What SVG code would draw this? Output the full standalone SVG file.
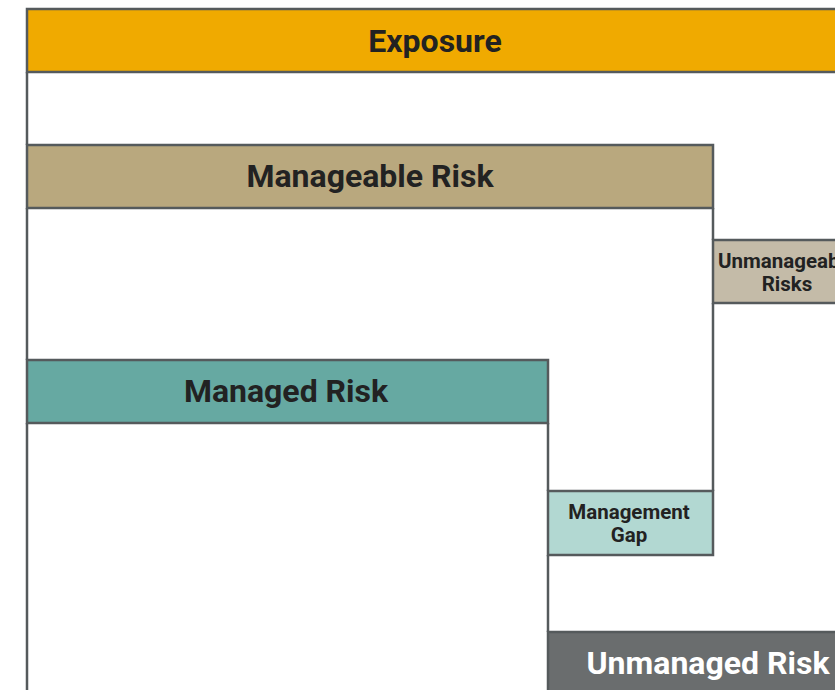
<svg xmlns="http://www.w3.org/2000/svg" width="835" height="690" viewBox="0 0 835 690">
<style>
.box{stroke:#555a5c;stroke-width:2.5}
.ln{stroke:#555a5c;stroke-width:2.5;fill:none}
.big{font-family:Roboto,"Liberation Sans",sans-serif;font-weight:bold;font-size:32px;fill:#222;text-anchor:middle}
.sm{font-family:Roboto,"Liberation Sans",sans-serif;font-weight:bold;font-size:20.5px;fill:#222;text-anchor:middle}
</style>
<rect x="0" y="0" width="835" height="690" fill="#fff"/>
<g id="connectors">
<line class="ln" x1="27" y1="72" x2="27" y2="145"/>
<line class="ln" x1="27" y1="208" x2="27" y2="360"/>
<line class="ln" x1="27" y1="423" x2="27" y2="692"/>
<line class="ln" x1="713" y1="208" x2="713" y2="240"/>
<line class="ln" x1="713" y1="303" x2="713" y2="491"/>
<line class="ln" x1="548" y1="423" x2="548" y2="491"/>
<line class="ln" x1="548" y1="555" x2="548" y2="632"/>
</g>
<g id="exposure">
<rect class="box" x="27" y="9" width="816" height="63" fill="#f0aa00"/>
<text class="big" x="435" y="52">Exposure</text>
</g>
<g id="manageable-risk">
<rect class="box" x="27" y="145" width="686" height="63" fill="#b9a87e"/>
<text class="big" x="370" y="187">Manageable Risk</text>
</g>
<g id="unmanageable-risks">
<rect class="box" x="713" y="240" width="148" height="63" fill="#c4bba8"/>
<text class="sm" x="787" y="268">Unmanageable</text>
<text class="sm" x="787" y="291">Risks</text>
</g>
<g id="managed-risk">
<rect class="box" x="27" y="360" width="521" height="63" fill="#66a9a2"/>
<text class="big" x="286" y="402">Managed Risk</text>
</g>
<g id="management-gap">
<rect class="box" x="548" y="491" width="165" height="64" fill="#b2d8d2"/>
<text class="sm" x="629" y="519">Management</text>
<text class="sm" x="629" y="542">Gap</text>
</g>
<g id="unmanaged-risk">
<rect class="box" x="548" y="632" width="320" height="63" fill="#6a6d6e"/>
<text class="big" x="708" y="674" style="fill:#fff">Unmanaged Risk</text>
</g>
</svg>
